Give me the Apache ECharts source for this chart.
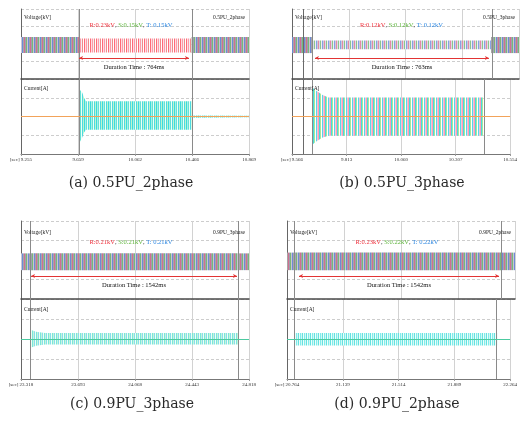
<!DOCTYPE html>
<html><head><meta charset="utf-8">
<script src="https://cdn.jsdelivr.net/npm/echarts@6/dist/echarts.min.js"></script>
<style>html,body{margin:0;padding:0;background:#fff}#c{width:520px;height:423px}</style>
</head><body><div id="c"></div>
<script>
// ================= DATA =================
const captions   = ['(a) 0.5PU_2phase', '(b) 0.5PU_3phase', '(c) 0.9PU_3phase', '(d) 0.9PU_2phase'];
const panelNames = ['0.5PU_2phase', '0.5PU_3phase', '0.9PU_3phase', '0.9PU_2phase'];
const phaseR     = ['R:0.23kV', 'R:0.12kV', 'R:0.21kV', 'R:0.23kV'];
const phaseS     = ['S:0.15kV', 'S:0.12kV', 'S:0.21kV', 'S:0.22kV'];
const phaseT     = ['T: 0.15kV', 'T: 0.12kV', 'T: 0.21kV', 'T: 0.22kV'];
const durations  = ['764ms', '763ms', '1542ms', '1542ms'];

// x tick labels [sec]
const ticksA = ['9.255', '9.659', '10.062', '10.466', '10.869'];
const ticksB = ['9.566', '9.813', '10.060', '10.307', '10.554'];
const ticksC = ['23.318', '23.693', '24.068', '24.443', '24.818'];
const ticksD = ['20.764', '21.139', '21.514', '21.889', '22.264'];

// event (sag) start / end markers [sec]
const eventStart = [9.668, 9.657, 23.377, 20.817];
const eventEnd   = [10.462, 10.432, 24.752, 22.178];
const cursorB    = [9.618];
// duration arrow ends [sec] and level (voltage display units)
const arrowStart = [9.666, 9.666, 23.384, 20.843];
const arrowEnd   = [10.444, 10.423, 24.739, 22.159];
const arrowLevel = [-0.4, -0.4, -0.41, -0.41];

// voltage envelope per segment (display units, axis -1..1)
const vEdgesA = [9.255, 9.668, 10.462, 10.869];
const vHiA    = [0.20, 0.16, 0.20];
const vLoA    = [-0.26, -0.24, -0.26];
const vKindA  = ['normal', 'faultA', 'normal'];
const vEdgesB = [9.566, 9.657, 10.432, 10.554];
const vHiB    = [0.20, 0.10, 0.20];
const vLoB    = [-0.26, -0.15, -0.26];
const vKindB  = ['normal', 'faultB', 'normal'];
const vEdgesC = [23.318, 23.377, 24.752, 24.818];
const vHiC    = [0.17, 0.17, 0.17];
const vLoC    = [-0.26, -0.26, -0.26];
const vKindC  = ['normal', 'normal', 'normal'];
const vEdgesD = [20.764, 20.817, 22.178, 22.264];
const vHiD    = [0.19, 0.19, 0.19];
const vLoD    = [-0.26, -0.26, -0.26];
const vKindD  = ['normal', 'normal', 'normal'];

// current envelope (display units, axis -2..2)
const iTA  = [9.666, 9.689, 9.701, 9.715, 10.462, 10.463, 10.869];
const iHiA = [1.48, 1.27, 1.00, 0.82, 0.82, 0.06, 0.04];
const iLoA = [-1.44, -1.10, -0.85, -0.70, -0.70, -0.06, -0.04];
const iTB  = [9.657, 9.679, 9.705, 9.731, 10.432];
const iHiB = [1.55, 1.35, 1.15, 1.02, 1.02];
const iLoB = [-1.50, -1.30, -1.12, -1.02, -1.02];
const iTC  = [23.377, 23.417, 23.476, 24.752];
const iHiC = [0.47, 0.36, 0.30, 0.30];
const iLoC = [-0.45, -0.34, -0.28, -0.28];
const iTD  = [20.817, 22.178];
const iHiD = [0.30, 0.30];
const iLoD = [-0.33, -0.33];

// ================= STYLE / LAYOUT =================
const FONT = 'Liberation Serif';
const layout = [
  {left: 21,  width: 228, vTop: 9,   vH: 70, iH: 75, labY: 18,  phY: 25,  curY: 89,  capX: 131, capY: 183},
  {left: 292, width: 227, vTop: 9,   vH: 70, iH: 75, labY: 18,  phY: 25,  curY: 89,  capX: 402, capY: 183},
  {left: 21,  width: 228, vTop: 221, vH: 78, iH: 80, labY: 233, phY: 242, curY: 310, capX: 132, capY: 404},
  {left: 287, width: 228, vTop: 221, vH: 78, iH: 80, labY: 233, phY: 242, curY: 310, capX: 397, capY: 404}
];
const centerLineColor = ['#f2a35a', '#f2a35a', '#4ccaa0', '#4ccaa0'];

function makePattern(cols) {
  const c = document.createElement('canvas');
  c.width = cols.length; c.height = 1;
  const g = c.getContext('2d');
  cols.forEach((col, i) => { g.fillStyle = col; g.fillRect(i, 0, 1, 1); });
  return {image: c, repeat: 'repeat'};
}
const patterns = {
  normal: makePattern(['#d07090', '#a0a0ae', '#78b878', '#c6c6d4', '#6e8ad6', '#a6a6a6']),
  faultA: makePattern(['#ff6a78', '#ffdce2', '#ff9aa8', '#f4eef2', '#f08a8a', '#ffffff']),
  faultB: makePattern(['#e28aa6', '#dcdce4', '#8cc68c', '#eeeef4', '#86a2e4', '#ccccd6']),
  curA: makePattern(['#3adcdc', '#a8f0e8', '#66e2d2', '#eafff8', '#4cdae2', '#bef4cc']),
  curB: makePattern(['#ff9ab8', '#46dcdc', '#a8e898', '#ffffff', '#58d8ea', '#f2c6d6']),
  curC: makePattern(['#7ae6da', '#c6f4dc', '#8adcec', '#eefff4']),
  curD: makePattern(['#80ecec', '#d2f8f4', '#66e0e0', '#ecfffa'])
};

const ticksAll  = [ticksA, ticksB, ticksC, ticksD];
const vEdgesAll = [vEdgesA, vEdgesB, vEdgesC, vEdgesD];
const vHiAll    = [vHiA, vHiB, vHiC, vHiD];
const vLoAll    = [vLoA, vLoB, vLoC, vLoD];
const vKindAll  = [vKindA, vKindB, vKindC, vKindD];
const iTAll  = [iTA, iTB, iTC, iTD];
const iHiAll = [iHiA, iHiB, iHiC, iHiD];
const iLoAll = [iLoA, iLoB, iLoC, iLoD];
const curPat = ['curA', 'curB', 'curC', 'curD'];
const cursors = [[], cursorB, [], []];

const grids = [], xAxes = [], yAxes = [], series = [], graphics = [];

// band between lo and hi envelope, drawn through the grid's own scales
function band(g, t0, T, lo, hi, fill, markLine) {
  const pts = T.map((t, i) => [+(t - t0).toFixed(6), lo[i], hi[i]]);
  const s = {
    type: 'custom', xAxisIndex: g, yAxisIndex: g, silent: true, animation: false, z: 3,
    data: pts, encode: {x: 0, y: [1, 2]},
    renderItem: (params, api) => {
      if (params.dataIndex !== 0) return null;
      const top = pts.map(d => api.coord([d[0], d[2]]));
      const bot = pts.map(d => api.coord([d[0], d[1]])).reverse();
      return {type: 'polygon', shape: {points: top.concat(bot)}, style: {fill: fill}};
    }
  };
  if (markLine) s.markLine = markLine;
  series.push(s);
}

for (let p = 0; p < 4; p++) {
  const L = layout[p];
  const ticks = ticksAll[p];
  const t0 = Number(ticks[0]);
  const step = +((Number(ticks[4]) - t0) / 4).toFixed(6);
  const xmax = +(step * 4).toFixed(6);
  const rel = t => +(t - t0).toFixed(6);
  const gv = 2 * p, gi = 2 * p + 1;
  grids.push({left: L.left, top: L.vTop, width: L.width, height: L.vH});
  grids.push({left: L.left, top: L.vTop + L.vH, width: L.width, height: L.iH});
  [gv, gi].forEach((g, k) => {
    const isV = k === 0;
    xAxes.push({
      gridIndex: g, type: 'value', min: 0, max: xmax, interval: step,
      axisLine: {show: true, onZero: false, lineStyle: {color: isV ? '#4a4a4a' : '#777', width: isV ? 1.5 : 1}},
      axisTick: {show: !isV, length: 2, lineStyle: {color: '#999'}},
      axisLabel: {show: !isV, fontSize: 5, fontFamily: FONT, color: '#333', margin: 3,
        formatter: v => { const i = Math.round(v / step); return i === 0 ? '[sec] ' + ticks[0] : (ticks[i] || ''); }},
      splitLine: {show: true, lineStyle: {color: '#d2d2d2', width: 1}}
    });
    yAxes.push({
      gridIndex: g, type: 'value', min: isV ? -1 : -2, max: isV ? 1 : 2, interval: isV ? 0.5 : 1,
      axisLine: {show: true, onZero: false, lineStyle: {color: '#666'}},
      axisTick: {show: false}, axisLabel: {show: false},
      splitLine: {show: true, lineStyle: {type: [3, 2], color: '#cdcdcd'}}
    });
  });

  const evLines = [eventStart[p], eventEnd[p]].map(t => ({xAxis: rel(t), lineStyle: {color: '#8a8a8a', width: 1, type: 'solid'}}));
  cursors[p].forEach(t => evLines.push({xAxis: rel(t), lineStyle: {color: '#6a6a6a', width: 1, type: 'solid'}}));

  // voltage bands
  const E = vEdgesAll[p];
  for (let k = 0; k < E.length - 1; k++) {
    let ml = null;
    if (k === 0) {
      ml = {silent: true, symbol: 'none', animation: false, label: {show: false},
        data: evLines.concat([[
          {coord: [rel(arrowStart[p]), arrowLevel[p]], symbol: 'arrow', symbolSize: [3, 4],
           lineStyle: {color: '#e23434', width: 1, type: 'solid'},
           label: {show: true, position: 'insideMiddleBottom', distance: 6, formatter: 'Duration Time : ' + durations[p],
             fontSize: 6.5, fontFamily: FONT, color: '#111'}},
          {coord: [rel(arrowEnd[p]), arrowLevel[p]], symbol: 'arrow', symbolSize: [3, 4]}
        ]])};
    }
    band(gv, t0, [E[k], E[k + 1]], [vLoAll[p][k], vLoAll[p][k]], [vHiAll[p][k], vHiAll[p][k]],
      patterns[vKindAll[p][k]], ml);
  }
  // current band
  band(gi, t0, iTAll[p], iLoAll[p], iHiAll[p], patterns[curPat[p]], {
    silent: true, symbol: 'none', animation: false, label: {show: false},
    data: evLines.concat([{yAxis: 0, lineStyle: {color: centerLineColor[p], width: 1, type: 'solid'}}])
  });

  // texts
  const f = s => s + 'px "' + FONT + '"';
  graphics.push({type: 'text', z: 100, left: L.left + 3, top: L.labY - 3,
    style: {text: 'Voltage[kV]', font: f(5.5), fill: '#222'}});
  graphics.push({type: 'text', z: 100, right: 520 - (L.left + L.width - 4), top: L.labY - 3,
    style: {text: panelNames[p], font: f(5.5), fill: '#222'}});
  graphics.push({type: 'text', z: 100, x: L.left + L.width / 2 - 4, y: L.phY,
    style: {text: '{r|' + phaseR[p] + '}{k|, }{s|' + phaseS[p] + '}{k|, }{t|' + phaseT[p] + '}',
      align: 'center', verticalAlign: 'middle', font: f(6.5),
      rich: {r: {fill: '#f0303c', font: f(6.5)}, s: {fill: '#5cb43a', font: f(6.5)},
             t: {fill: '#2b86e0', font: f(6.5)}, k: {fill: '#333', font: f(6.5)}}}});
  graphics.push({type: 'text', z: 100, left: L.left + 3, top: L.curY - 3,
    style: {text: 'Current[A]', font: f(5.5), fill: '#222'}});
  graphics.push({type: 'text', z: 100, x: L.capX, y: L.capY,
    style: {text: captions[p], align: 'center', verticalAlign: 'middle', font: '14px "DejaVu Serif"', fill: '#2a2a2a'}});
}

const chart = echarts.init(document.getElementById('c'), null, {renderer: 'canvas'});
chart.setOption({
  animation: false,
  backgroundColor: '#fff',
  grid: grids, xAxis: xAxes, yAxis: yAxes, series: series, graphic: graphics
});
</script></body></html>
